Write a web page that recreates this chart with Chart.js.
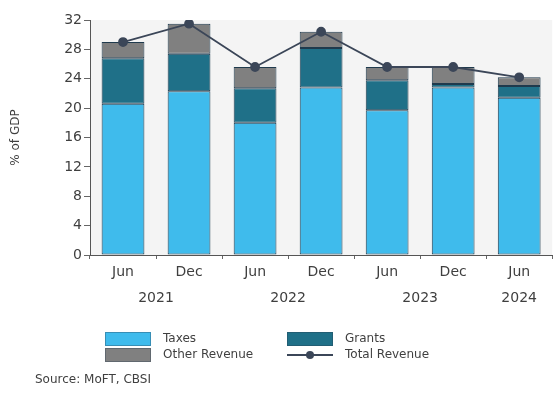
<!DOCTYPE html>
<html>
<head>
<meta charset="utf-8">
<script src="https://cdn.jsdelivr.net/npm/chart.js@4/dist/chart.umd.min.js"></script>
<style>
  html, body { margin: 0; padding: 0; background: #ffffff; }
  #wrap { position: relative; width: 558px; height: 396px; }
</style>
</head>
<body>
<div id="wrap"><canvas id="c" width="558" height="396"></canvas></div>
<script>
// Government revenue, % of GDP, by half-year
const periods = ['Jun', 'Dec', 'Jun', 'Dec', 'Jun', 'Dec', 'Jun'];
const years   = ['2021', '2021', '2022', '2022', '2023', '2023', '2024'];
const taxes   = [20.6, 22.3, 18.0, 22.8, 19.7, 22.8, 21.4];
const grants  = [6.2, 5.1, 4.7, 5.4, 4.1, 0.5, 1.6];
const otherRevenue = [2.2, 4.1, 2.9, 2.2, 1.8, 2.3, 1.2];
const totalRevenue = [29.0, 31.5, 25.6, 30.4, 25.6, 25.6, 24.2];
const yTicks = [0, 4, 8, 12, 16, 20, 24, 28, 32];
const sourceNote = 'Source: MoFT, CBSI';

const FONT = "'DejaVu Sans', sans-serif";
const TEXT = '#3f3f3f';
const OUTLINE = '#1f3a4d';

// light grey plot background
const plotBg = {
  id: 'plotBg',
  beforeDraw(chart) {
    const { ctx, chartArea: a } = chart;
    ctx.save();
    ctx.fillStyle = '#f4f4f4';
    ctx.fillRect(a.left, a.top, a.right - a.left, a.bottom - a.top);
    ctx.restore();
  }
};

// year row under the month labels, centred on each year's categories
const yearRow = {
  id: 'yearRow',
  afterDraw(chart) {
    const { ctx } = chart;
    const x = chart.scales.x;
    const groups = {};
    years.forEach((y, i) => { (groups[y] = groups[y] || []).push(x.getPixelForValue(i)); });
    ctx.save();
    ctx.font = '14px ' + FONT;
    ctx.fillStyle = TEXT;
    ctx.textAlign = 'center';
    ctx.textBaseline = 'middle';
    Object.keys(groups).forEach(y => {
      const px = groups[y];
      ctx.fillText(y, (px[0] + px[px.length - 1]) / 2, 298);
    });
    ctx.restore();
  }
};

// two-column legend and source note
const legendGrid = {
  id: 'legendGrid',
  afterDraw(chart) {
    const { ctx } = chart;
    const ds = chart.data.datasets;
    const cols = [105, 287];
    const rows = [332, 348];
    ctx.save();
    ctx.font = '12px ' + FONT;
    ctx.textBaseline = 'middle';
    ds.forEach((d, k) => {
      const bx = cols[k % 2];
      const by = rows[Math.floor(k / 2)];
      if (d.type === 'line') {
        ctx.strokeStyle = d.borderColor;
        ctx.lineWidth = 2;
        ctx.beginPath();
        ctx.moveTo(bx, by + 7);
        ctx.lineTo(bx + 46, by + 7);
        ctx.stroke();
        ctx.fillStyle = d.pointBackgroundColor;
        ctx.beginPath();
        ctx.arc(bx + 23, by + 7, 4, 0, Math.PI * 2);
        ctx.fill();
      } else {
        ctx.fillStyle = d.backgroundColor;
        ctx.fillRect(bx, by, 46, 14);
        ctx.strokeStyle = 'rgba(40,60,80,0.35)';
        ctx.lineWidth = 1;
        ctx.strokeRect(bx + 0.5, by + 0.5, 45, 13);
      }
      ctx.fillStyle = TEXT;
      ctx.textAlign = 'left';
      ctx.fillText(d.label, bx + 58, by + 7);
    });
    ctx.fillText(sourceNote, 35, 380);
    ctx.restore();
  }
};

const barStyle = {
  borderColor: OUTLINE, borderWidth: 1, borderSkipped: false, inflateAmount: 0,
  stack: 'rev', order: 1, barPercentage: 0.8, categoryPercentage: 0.81
};

new Chart(document.getElementById('c'), {
  data: {
    labels: periods,
    datasets: [
      Object.assign({ type: 'bar', label: 'Taxes', data: taxes, backgroundColor: '#3fbbec' }, barStyle),
      Object.assign({ type: 'bar', label: 'Grants', data: grants, backgroundColor: '#1f7088' }, barStyle),
      Object.assign({ type: 'bar', label: 'Other Revenue', data: otherRevenue, backgroundColor: '#808080' }, barStyle),
      { type: 'line', label: 'Total Revenue', data: totalRevenue, stack: 'total', order: 0,
        borderColor: '#3b4658', borderWidth: 1.8, pointRadius: 4,
        pointBackgroundColor: '#3b4658', pointBorderColor: '#3b4658', tension: 0 }
    ]
  },
  options: {
    responsive: false,
    animation: false,
    events: [],
    layout: { padding: { top: 20, right: 1, left: 0, bottom: 0 } },
    plugins: { legend: { display: false }, tooltip: { enabled: false } },
    scales: {
      x: {
        stacked: true,
        afterFit(s) { s.height = 141; },
        grid: { offset: true, drawOnChartArea: false, tickLength: 4, color: '#666', tickColor: '#666' },
        border: { color: '#555', width: 1 },
        ticks: { font: { family: FONT, size: 14 }, color: TEXT, padding: 5 }
      },
      y: {
        stacked: true,
        min: 0, max: 32,
        afterFit(s) { s.width = 90; },
        afterBuildTicks(s) { s.ticks = yTicks.map(v => ({ value: v })); },
        grid: { drawOnChartArea: false, tickLength: 6, color: '#666', tickColor: '#666' },
        border: { color: '#555', width: 1 },
        ticks: { font: { family: FONT, size: 14 }, color: TEXT, padding: 2 },
        title: { display: true, text: '% of GDP', font: { family: FONT, size: 12 }, color: TEXT, padding: 9 }
      }
    }
  },
  plugins: [plotBg, yearRow, legendGrid]
});
</script>
</body>
</html>
